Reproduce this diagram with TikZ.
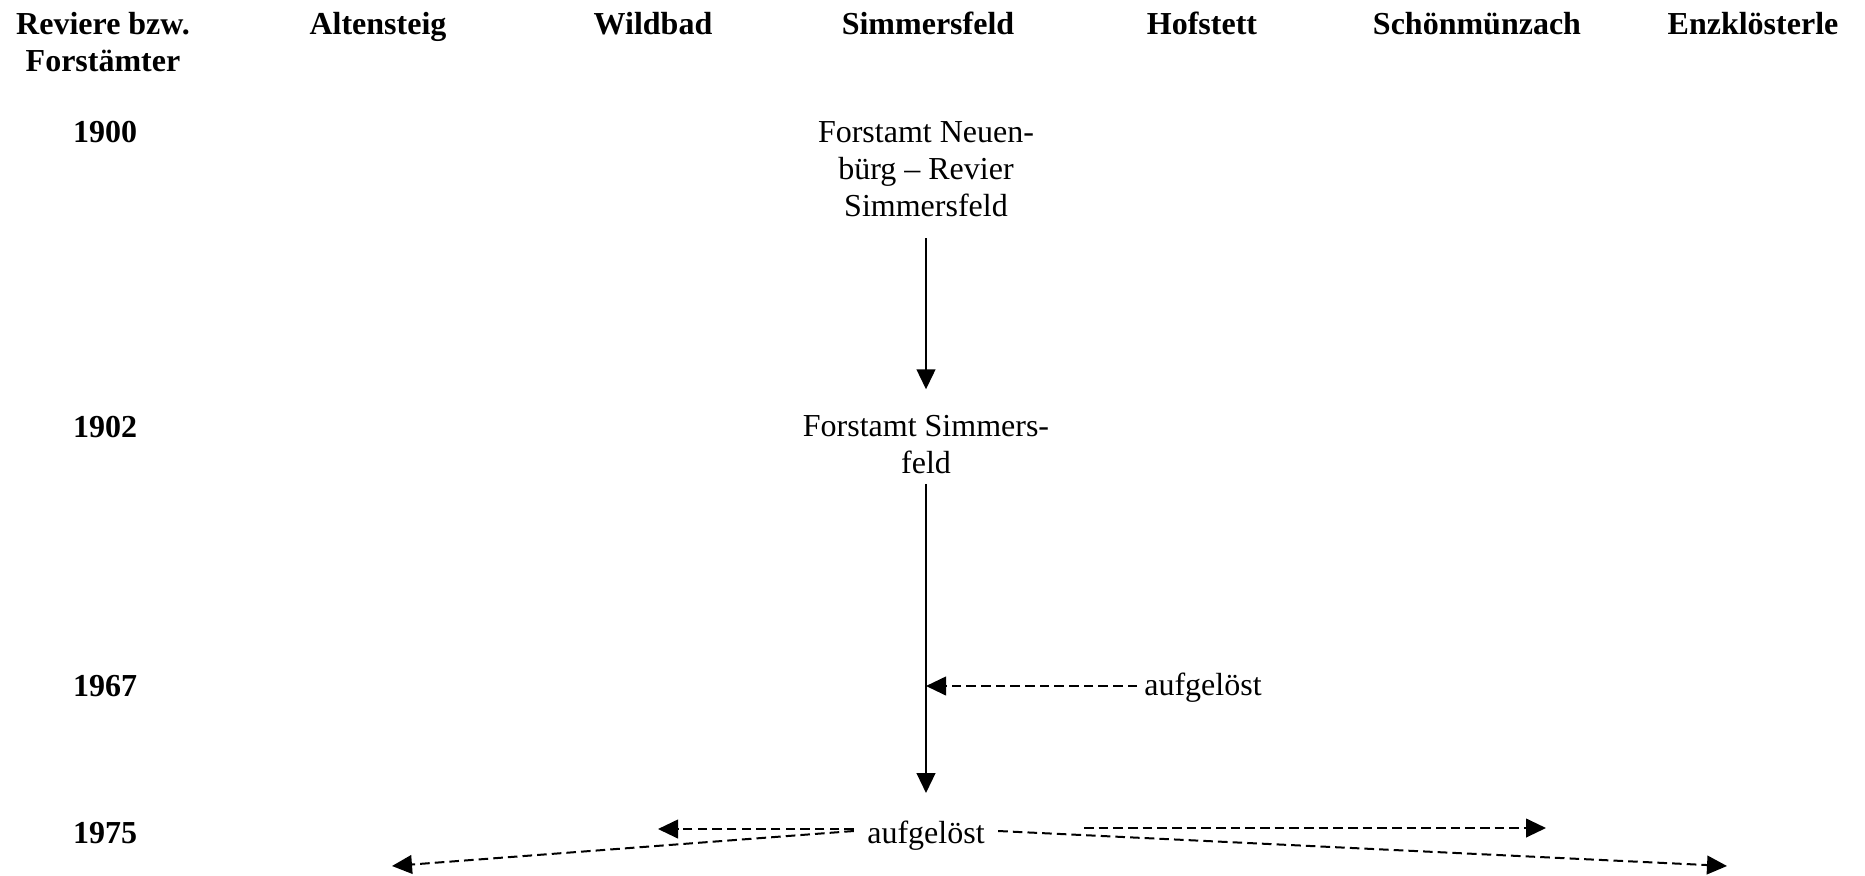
\documentclass[tikz,border=0pt]{standalone}
\usepackage{fontspec}
\setmainfont{Liberation Serif}
\usetikzlibrary{arrows.meta,calc}
\newcommand\twelve{\fontsize{12pt}{13.9pt}\selectfont}
\begin{document}
\begin{tikzpicture}[x=0.375pt,y=-0.375pt,
  hd/.style={font=\twelve\bfseries, align=center, inner sep=0pt},
  col/.style={font=\twelve\bfseries, inner sep=0pt, anchor=base},
  yr/.style={font=\twelve\bfseries, inner sep=0pt},
  txt/.style={font=\twelve, align=center, inner sep=0pt},
  arr/.style={line width=0.85pt, -{Triangle[length=7.5pt,width=7pt]}},
  darr/.style={line width=0.75pt, dash pattern=on 3.6pt off 1.9pt, -{Triangle[length=7.5pt,width=7pt]}}]
\useasboundingbox (0,0) rectangle (1865,875);
% header
\node[hd] (h0) at (103,42) {Reviere bzw.\\Forstämter};
\node[col] (hA) at (378,34) {Altensteig};
\node[col] (hW) at (653,34) {Wildbad};
\node[col] (hS) at (928,34) {Simmersfeld};
\node[col] (hH) at (1202,34) {Hofstett};
\node[col] (hSch) at (1477,34) {Schönmünzach};
\node[col] (hE) at (1753,34) {Enzklösterle};
% years
\node[yr] (y1900) at (105,132) {1900};
\node[yr] (y1902) at (105,427) {1902};
\node[yr] (y1967) at (105,686) {1967};
\node[yr] (y1975) at (105,833) {1975};
% content
\node[txt] (N1900) at (926,169) {Forstamt Neuen-\\bürg – Revier\\Simmersfeld};
\node[txt] (N1902) at (926,445) {Forstamt Simmers-\\feld};
\node[txt] (N1967) at (1203,688) {aufgelöst};
\node[txt] (N1975) at (926,836) {aufgelöst};
% connectors
\draw[arr, shorten <=7.9pt, shorten >=9.7pt] (N1900) -- (N1902);
\draw[arr, shorten <=3.4pt, shorten >=10.4pt] (N1902) -- (N1975);
\draw[darr, shorten <=2.5pt] ($(N1967.west)+(0,-2)$) -- ($(N1967.west -| N1902)+(0,-2)$);
\coordinate (tW) at (658,829);
\coordinate (tA) at (392,866);
\coordinate (sS) at (1084,828);
\coordinate (tS) at (1546,828);
\coordinate (tE) at (1727,866);
\draw[darr] ($(N1975.west)+(-13,-7)$) -- (tW);
\draw[darr] ($(N1975.west)+(-13,-5)$) -- (tA);
\draw[darr] (sS) -- (tS);
\draw[darr] ($(N1975.east)+(13,-5)$) -- (tE);
\end{tikzpicture}
\end{document}
